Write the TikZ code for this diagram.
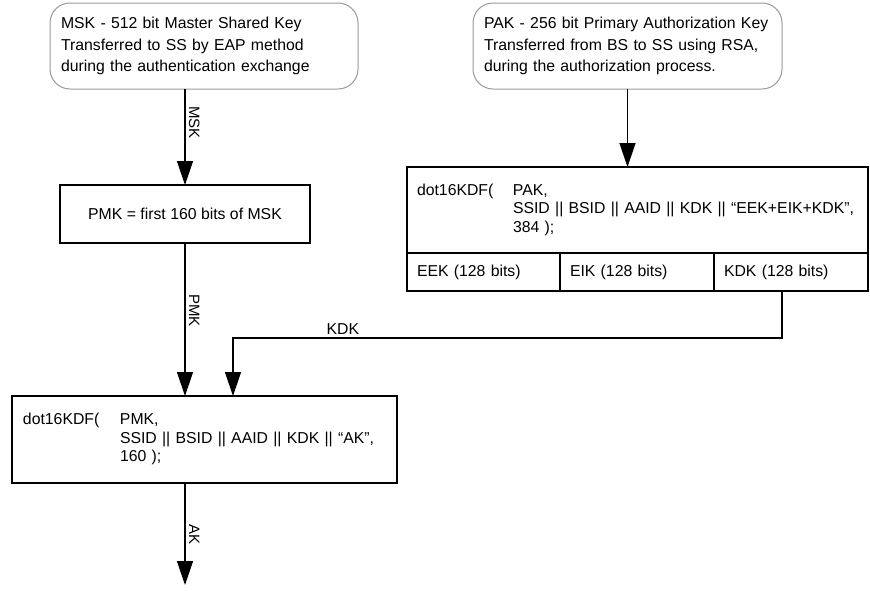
\documentclass[tikz,border=0pt]{standalone}
\usepackage{fontspec}
\setmainfont{Liberation Sans}
\usetikzlibrary{arrows.meta,positioning}

\begin{document}
\begin{tikzpicture}[
    x=1pt, y=-1pt,
    font=\fontsize{15.8}{21.5}\selectfont,
    every node/.style={outer sep=0pt},
    keybox/.style={draw=gray!80, line width=1pt, rounded corners=20pt, align=left,
        anchor=north west, inner xsep=11pt, text width=#1, minimum height=86pt},
    plainbox/.style={draw, line width=1.3pt, minimum width=250pt, minimum height=58pt},
    kdfbox/.style={draw, line width=1.3pt, anchor=north west, align=left,
        font=\fontsize{15.8}{18.5}\selectfont},
    cell/.style={draw, line width=1.3pt, anchor=north west, align=left,
        inner xsep=10pt, text width=#1, minimum height=38pt},
    arr/.style={line width=1.3pt, -{Triangle[length=24pt,width=16pt]}},
    lab/.style={rotate=-90, anchor=south, inner sep=4pt, font=\fontsize{15}{15}\selectfont}
]
\useasboundingbox (0,0) rectangle (870,590);

% key sources
\node[keybox=286pt] (msk) at (50,3) {MSK - 512 bit Master Shared Key\\Transferred to SS by EAP method\\during the authentication exchange};
\node[keybox=287pt] (pak) at (473,3) {PAK - 256 bit Primary Authorization Key\\Transferred from BS to SS using RSA,\\during the authorization process.};

\node[plainbox] (pmkbox) at (185,214) {PMK = first 160 bits of MSK};

% key derivation from PAK
\node[kdfbox, inner xsep=10pt, text width=441pt, minimum height=86pt] (kdfpak) at (407,167)
    {\begin{tabular}{@{}p{96pt}@{}l@{}}dot16KDF( & PAK,\\ & SSID || BSID || AAID || KDK || “EEK+EIK+KDK”,\\ & 384 );\end{tabular}};
\node[cell=133pt] (eek) at (kdfpak.south west) {EEK (128 bits)};
\node[cell=134pt] (eik) at (eek.north east) {EIK (128 bits)};
\node[cell=134pt] (kdk) at (eik.north east) {KDK (128 bits)};

% key derivation from PMK
\node[kdfbox, inner xsep=11pt, text width=363pt, minimum height=87pt] (kdfpmk) at (12,396)
    {\begin{tabular}{@{}p{97pt}@{}l@{}}dot16KDF( & PMK,\\ & SSID || BSID || AAID || KDK || “AK”,\\ & 160 );\end{tabular}};
\coordinate (akout) at (185,585);

\draw[arr] (msk.south -| pmkbox.north) -- node[lab, pos=0.35] {MSK} (pmkbox.north);
\draw[arr] (pak.south) -- (pak.south |- kdfpak.north);
\draw[arr] (pmkbox.south) -- node[lab, pos=0.44] {PMK} (pmkbox.south |- kdfpmk.north);
\draw[arr] ([xshift=-9pt]kdk.south) -- ++(0,47) -| node[pos=0.4, above, inner sep=4pt] {KDK} ([xshift=28.5pt]kdfpmk.north);
\draw[arr] (kdfpmk.south -| pmkbox.south) -- node[lab, midway] {AK} (akout);
\end{tikzpicture}
\end{document}
